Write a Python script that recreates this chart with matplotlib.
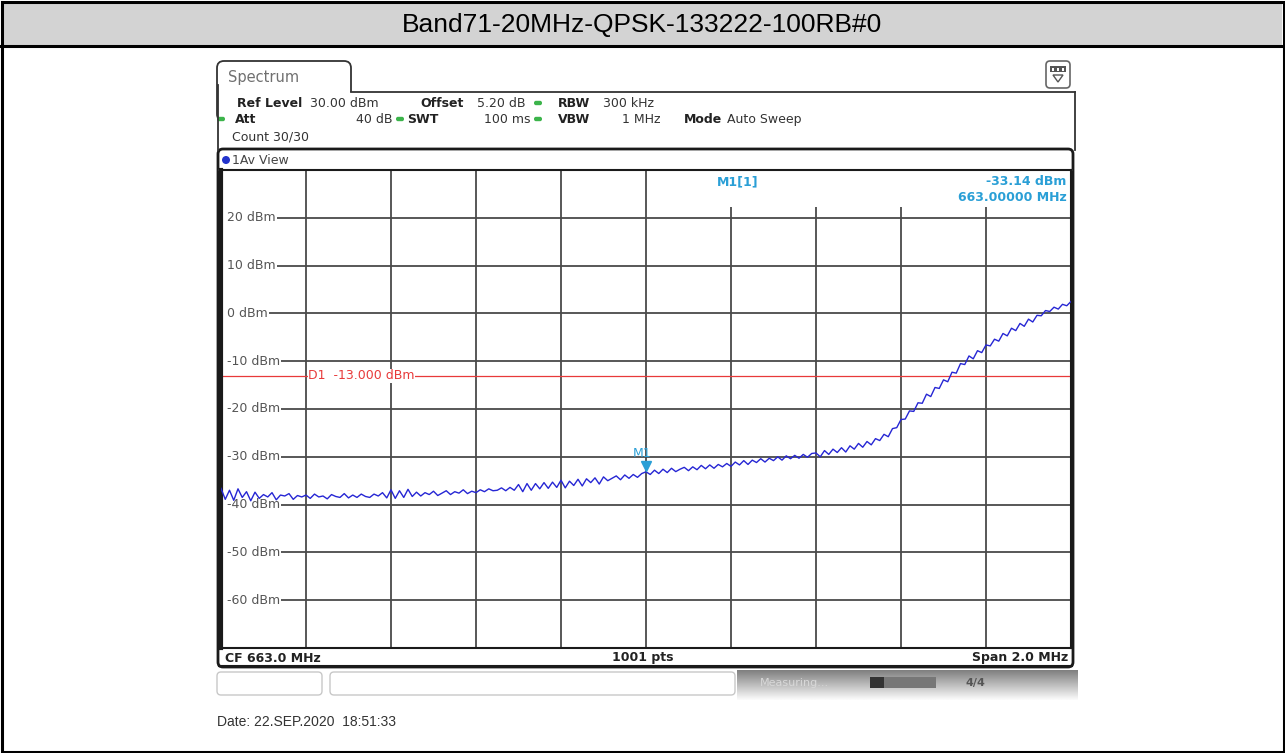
import numpy as np
import matplotlib
matplotlib.use("Agg")
import matplotlib.pyplot as plt
from matplotlib.patches import Rectangle, FancyBboxPatch, Polygon, Circle

# data
title = "Band71-20MHz-QPSK-133222-100RB#0"
f_start, f_stop = 662.0, 664.0
ref_level, low_level = 30, -70
y_labels = [20, 10, 0, -10, -20, -30, -40, -50, -60]
d1_level = -13.0
m1_freq, m1_level = 663.0, -33.14

# trace, 0.01 MHz steps, 662.00 .. 664.00 MHz (dBm)
level = [
    -36.6, -38.9, -37.0, -39.1, -36.7, -38.5, -37.3, -39.2, -37.4, -38.7,
    -37.9, -38.4, -37.5, -39.0, -38.0, -38.2, -37.7, -38.9, -38.1, -38.4,
    -38.0, -38.7, -37.8, -38.4, -38.2, -38.8, -37.9, -38.3, -38.5, -37.7,
    -38.6, -38.0, -38.5, -37.8, -38.3, -38.5, -37.8, -38.2, -37.5, -38.6,
    -36.9, -38.7, -37.1, -38.5, -36.8, -38.3, -37.4, -38.2, -37.5, -37.9,
    -37.2, -38.1, -37.6, -37.1, -37.9, -37.3, -37.6, -36.9, -37.7, -37.2,
    -37.5, -36.9, -37.3, -36.7, -37.1, -37.0, -36.5, -37.1, -36.4, -37.0,
    -35.8, -37.3, -35.6, -37.0, -35.6, -36.7, -35.4, -36.6, -35.3, -36.4,
    -34.9, -36.5, -35.1, -36.0, -34.7, -36.1, -34.6, -35.4, -34.4, -35.7,
    -34.2, -35.0, -34.5, -34.0, -34.8, -33.8, -34.5, -33.7, -34.3, -33.5,
    -33.14, -33.7, -32.8, -33.5, -32.6, -33.3, -32.4, -33.1, -32.6, -32.2,
    -32.9, -32.1, -32.7, -31.8, -32.5, -31.7, -32.4, -31.6, -32.1, -31.4,
    -32.0, -31.1, -31.7, -30.8, -31.6, -30.7, -31.2, -30.4, -31.1, -30.3,
    -30.8, -30.0, -30.7, -29.8, -30.4, -29.7, -30.3, -29.5, -30.1, -29.3,
    -29.2, -30.0, -28.7, -29.5, -28.4, -29.1, -28.1, -29.0, -27.7, -28.4,
    -27.2, -28.0, -26.8, -27.5, -26.2, -26.6, -25.3, -25.8, -24.1, -23.9,
    -22.2, -22.1, -20.4, -20.5, -18.7, -18.8, -16.9, -17.4, -15.5, -15.7,
    -13.9, -14.3, -12.3, -12.5, -10.5, -10.7, -8.9, -9.5, -7.8, -8.2,
    -6.6, -6.8, -5.4, -5.8, -4.2, -4.7, -3.1, -3.6, -2.1, -2.7,
    -1.2, -1.8, -0.4, -0.5, 0.6, 0.4, 1.3, 0.9, 1.9, 1.6,
    2.5,
]
freq = np.linspace(f_start, f_stop, len(level))

W, H = 1285, 753
fig = plt.figure(figsize=(W / 100, H / 100), dpi=100)

# background axes in pixel units (y down)
bg = fig.add_axes([0, 0, 1, 1])
bg.set_xlim(0, W)
bg.set_ylim(H, 0)
bg.axis('off')

# outer table frame + title cell
bg.add_patch(Rectangle((3, 3), W - 6, 43, fc='#d3d3d3', ec='none'))
bg.add_patch(Rectangle((1.5, 1.5), W - 3, H - 3, fc='none', ec='black', lw=2.2))
bg.plot([1, W - 1], [46, 46], color='black', lw=2.2)
bg.text(W / 2, 25, title, ha='center', va='center', fontsize=19,
        family='Liberation Sans', color='black')

# spectrum tab
bg.add_patch(FancyBboxPatch((217, 61), 134, 60, boxstyle="round,pad=0,rounding_size=7",
                            fc='white', ec='#333333', lw=1.3))
bg.add_patch(Rectangle((218.5, 92), 133, 40, fc='white', ec='none'))
bg.plot([351, 1075], [92, 92], color='#333333', lw=1.3)
bg.plot([1075, 1075], [92, 150], color='#333333', lw=1.3)
bg.plot([217.6, 217.6], [85, 150], color='#333333', lw=1.3)
bg.text(228, 77, "Spectrum", ha='left', va='center', fontsize=10.5, color='#707070')

# small icon top right
bg.add_patch(FancyBboxPatch((1046, 61), 24, 27, boxstyle="round,pad=0,rounding_size=4",
                            fc='white', ec='#666666', lw=1.2))
bg.add_patch(Rectangle((1050, 66), 16, 6, fc='#555555', ec='none'))
for xx in (1053, 1058, 1063):
    bg.add_patch(Rectangle((xx - 1, 67.5), 2, 3, fc='white', ec='none'))
bg.add_patch(Polygon([[1053, 75], [1063, 75], [1058, 82]], closed=True, fc='white',
                     ec='#555555', lw=1))

# header settings
hdr = dict(va='center', fontsize=9, color='#333333')
hdrb = dict(va='center', fontsize=9, color='#222222', fontweight='bold')
green = '#3cb44b'
bg.text(237, 103, "Ref Level", ha='left', **hdrb)
bg.text(310, 103, "30.00 dBm", ha='left', **hdr)
bg.text(420, 103, "Offset", ha='left', **hdrb)
bg.text(477, 103, "5.20 dB", ha='left', **hdr)
bg.text(558, 103, "RBW", ha='left', **hdrb)
bg.text(603, 103, "300 kHz", ha='left', **hdr)
bg.text(235, 119, "Att", ha='left', **hdrb)
bg.text(392, 119, "40 dB", ha='right', **hdr)
bg.text(407, 119, "SWT", ha='left', **hdrb)
bg.text(530, 119, "100 ms", ha='right', **hdr)
bg.text(558, 119, "VBW", ha='left', **hdrb)
bg.text(660, 119, "1 MHz", ha='right', **hdr)
bg.text(684, 119, "Mode", ha='left', **hdrb)
bg.text(727, 119, "Auto Sweep", ha='left', **hdr)
bg.text(232, 137, "Count 30/30", ha='left', **hdr)
for gx, gy in ((538, 103), (221, 119), (400, 119), (538, 119)):
    bg.add_patch(FancyBboxPatch((gx - 4, gy - 2.2), 8, 4.4, boxstyle="round,pad=0,rounding_size=2",
                                fc=green, ec='none'))

# window frame
bg.add_patch(FancyBboxPatch((218, 149), 855, 518, boxstyle="round,pad=0,rounding_size=5",
                            fc='white', ec='#1a1a1a', lw=2))
bg.plot([219, 1072], [170, 170], color='#333333', lw=1.2)
bg.add_patch(Circle((226, 160), 4, fc='#2233cc', ec='none'))
bg.text(232, 160, "1Av View", ha='left', va='center', fontsize=9, color='#444444')
bg.plot([219, 1072], [666, 666], color='#1a1a1a', lw=1.5)
bg.text(225, 658, "CF 663.0 MHz", ha='left', va='center', fontsize=9, fontweight='bold', color='#222222')
bg.text(643, 658, "1001 pts", ha='center', va='center', fontsize=9, fontweight='bold', color='#222222')
bg.text(1068, 658, "Span 2.0 MHz", ha='right', va='center', fontsize=9, fontweight='bold', color='#222222')

# status bar under the window
bg.add_patch(FancyBboxPatch((217, 672), 105, 23, boxstyle="round,pad=0,rounding_size=4",
                            fc='white', ec='#c8c8c8', lw=1))
bg.add_patch(FancyBboxPatch((330, 672), 405, 23, boxstyle="round,pad=0,rounding_size=4",
                            fc='white', ec='#c8c8c8', lw=1))
grad = np.linspace(0.5, 0.98, 30)[:, None] * np.ones((1, 10))
bg.imshow(grad, extent=[737, 1078, 700, 670], cmap='gray', vmin=0, vmax=1, aspect='auto')
bg.text(760, 683, "Measuring...", ha='left', va='center', fontsize=8, color='#d8d8d8')
bg.add_patch(Rectangle((870, 677), 66, 11, fc='#777777', ec='none'))
bg.add_patch(Rectangle((870, 677), 14, 11, fc='#333333', ec='none'))
bg.text(965, 683, "4/4", ha='left', va='center', fontsize=8, fontweight='bold', color='#555555')

bg.text(217, 722, "Date: 22.SEP.2020  18:51:33", ha='left', va='center', fontsize=10,
        family='Liberation Sans', color='#333333')

# diagram axes
ax = fig.add_axes([221 / W, 1 - 648 / H, 850 / W, 478 / H])
ax.set_xlim(f_start, f_stop)
ax.set_ylim(low_level, ref_level)
ax.set_xticks(np.linspace(f_start, f_stop, 11))
ax.set_yticks(range(low_level, ref_level + 1, 10))
ax.tick_params(length=0, labelbottom=False, labelleft=False)
ax.set_axisbelow(True)
ax.grid(True, color='#4a4a4a', lw=1.3)
for s in ax.spines.values():
    s.set_color('#1a1a1a')
    s.set_linewidth(1.5)
ax.spines['left'].set_linewidth(3)

# blank area behind marker readout
ax.add_patch(Rectangle((0.502, 0.923), 0.498, 0.077, transform=ax.transAxes,
                       fc='white', ec='none', zorder=1))

for v in y_labels:
    ax.add_patch(Rectangle((f_start, v - 1.2), 0.016, 2.4, fc='white', ec='none', zorder=2.5))
    ax.text(f_start + 0.014, v, f"{v} dBm", ha='left', va='center', fontsize=9,
            color='#555555', zorder=3,
            bbox=dict(fc='white', ec='none', pad=0.8))

ax.axhline(d1_level, color='#e83a3a', lw=0.9, zorder=2)
ax.text(f_start + 0.205, d1_level, "D1  -13.000 dBm", ha='left', va='center', fontsize=9,
        color='#e83a3a', zorder=3, bbox=dict(fc='white', ec='none', pad=0.4))

ax.plot(freq, level, color='#2626d4', lw=1.0, zorder=4)

mcol = '#2a9fd6'
ax.plot([m1_freq], [m1_level + 1.3], marker='v', ms=7, color=mcol, zorder=5)
ax.text(m1_freq - 0.01, m1_level + 3.8, "M1", ha='center', va='center', fontsize=9,
        color=mcol, zorder=5)
ax.text(663.216, 27.6, "M1[1]", ha='center', va='center', fontsize=9, fontweight='bold',
        color=mcol, zorder=5)
ax.text(f_stop - 0.01, 27.6, f"{m1_level:.2f} dBm", ha='right', va='center', fontsize=9,
        fontweight='bold', color=mcol, zorder=5)
ax.text(f_stop - 0.01, 24.2, f"{m1_freq:.5f} MHz", ha='right', va='center', fontsize=9,
        fontweight='bold', color=mcol, zorder=5)

fig.savefig("out.png", dpi=100)
